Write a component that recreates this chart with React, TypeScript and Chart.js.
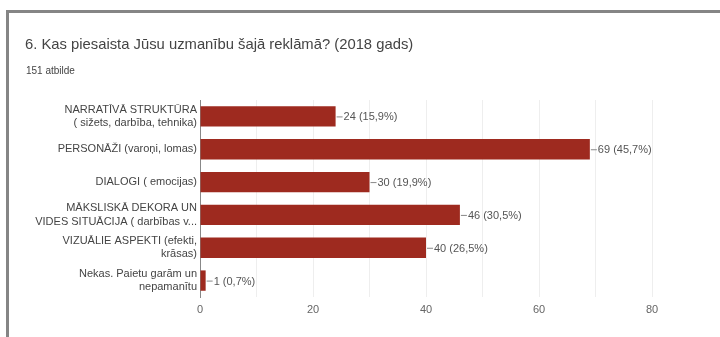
import React, { useEffect, useRef } from "react";
import { Chart, registerables } from "chart.js";

Chart.register(...registerables);

const categories: string[][] = [
  ["NARRATĪVĀ STRUKTŪRA", "( sižets, darbība, tehnika)"],
  ["PERSONĀŽI (varoņi, lomas)"],
  ["DIALOGI ( emocijas)"],
  ["MĀKSLISKĀ DEKORA UN", "VIDES SITUĀCIJA ( darbības v..."],
  ["VIZUĀLIE ASPEKTI (efekti,", "krāsas)"],
  ["Nekas. Paietu garām un", "nepamanītu"],
];
const counts: number[] = [24, 69, 30, 46, 40, 1];
const percents: string[] = ["15,9%", "45,7%", "19,9%", "30,5%", "26,5%", "0,7%"];
const xTicks: number[] = [0, 20, 40, 60, 80];
const titleText = "6. Kas piesaista Jūsu uzmanību šajā reklāmā? (2018 gads)";
const subtitleText = "151 atbilde";

const FONT = "'Liberation Sans', Arial, sans-serif";

const valueLabels = {
  id: "valueLabels",
  afterDatasetsDraw(chart: any) {
    const ctx = chart.ctx;
    const meta = chart.getDatasetMeta(0);
    ctx.save();
    ctx.font = `11px ${FONT}`;
    ctx.textBaseline = "middle";
    ctx.textAlign = "left";
    meta.data.forEach((bar: any, i: number) => {
      const x = bar.x;
      const y = bar.y;
      ctx.strokeStyle = "#888";
      ctx.lineWidth = 1;
      ctx.beginPath();
      ctx.moveTo(x + 1, y + 0.5);
      ctx.lineTo(x + 7, y + 0.5);
      ctx.stroke();
      ctx.fillStyle = "#555";
      ctx.fillText(`${counts[i]} (${percents[i]})`, x + 8, y + 1);
    });
    ctx.restore();
  },
};

export default function App() {
  const ref = useRef<HTMLCanvasElement>(null);
  useEffect(() => {
    const chart = new Chart(ref.current!, {
      type: "bar",
      data: {
        labels: categories,
        datasets: [
          {
            data: counts,
            backgroundColor: "#9e2a1f",
            borderWidth: 0,
            barPercentage: 0.62,
            categoryPercentage: 1,
          },
        ],
      },
      options: {
        indexAxis: "y",
        animation: false,
        responsive: false,
        maintainAspectRatio: false,
        layout: { padding: { left: 10, right: 68, top: 100, bottom: 16 } },
        plugins: {
          legend: { display: false },
          tooltip: { enabled: false },
        },
        scales: {
          x: {
            min: 0,
            max: 80,
            ticks: {
              stepSize: 10,
              color: "#666",
              padding: 6,
              font: { family: FONT, size: 11 },
              callback: (v: any) => (xTicks.includes(Number(v)) ? String(v) : ""),
              maxRotation: 0,
            },
            grid: { color: "#eeeeee", drawTicks: false },
            border: { display: false },
            afterFit: (s: any) => {
              s.height = 24;
            },
          },
          y: {
            ticks: {
              color: "#444",
              font: { family: FONT, size: 11, lineHeight: 1.2 },
              padding: 3,
              autoSkip: false,
            },
            grid: { display: false, drawTicks: false },
            border: { display: true, color: "#888", width: 1 },
            afterFit: (s: any) => {
              s.width = 190;
            },
          },
        },
      },
      plugins: [valueLabels],
    });
    return () => chart.destroy();
  }, []);

  return (
    <div
      style={{
        position: "fixed",
        left: 0,
        top: 0,
        width: 720,
        height: 337,
        background: "#fff",
        overflow: "hidden",
        fontFamily: FONT,
      }}
    >
      <canvas ref={ref} width={720} height={337} style={{ position: "absolute", left: 0, top: 0 }} />
      <div style={{ position: "absolute", left: 6, top: 10, width: 714, height: 3, background: "#858585" }} />
      <div style={{ position: "absolute", left: 6, top: 10, width: 3, height: 327, background: "#858585" }} />
      <div style={{ position: "absolute", left: 25, top: 36, fontSize: 14.8, lineHeight: "17px", color: "#444", whiteSpace: "nowrap" }}>
        {titleText}
      </div>
      <div style={{ position: "absolute", left: 26, top: 65, fontSize: 10, lineHeight: "12px", color: "#444", whiteSpace: "nowrap" }}>
        {subtitleText}
      </div>
    </div>
  );
}
